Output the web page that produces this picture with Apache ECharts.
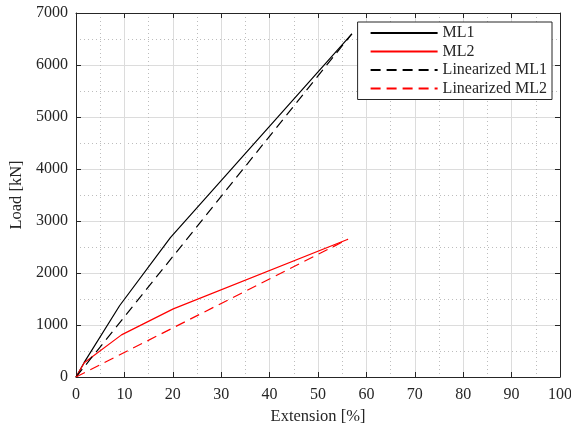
<!DOCTYPE html>
<html><head><meta charset="utf-8">
<script src="https://cdn.jsdelivr.net/npm/echarts@6/dist/echarts.min.js"></script>
<style>html,body{margin:0;padding:0;background:#fff}#c{width:571px;height:425px}</style>
</head><body><div id="c"></div>
<script>
const ml1 = [[0,0],[1.7,280],[9,1370],[19.5,2680],[57,6600]];
const ml2 = [[0,0],[1.7,275],[9.4,810],[20.1,1310],[56.2,2650]];
const linMl1 = [[0,0],[57,6600]];
const linMl2 = [[0,0],[56.2,2650]];
const seriesNames = ['ML1','ML2','Linearized ML1','Linearized ML2'];
const xTitle = 'Extension [%]';
const yTitle = 'Load [kN]';

const font = 'Liberation Serif';
const axisCol = '#262626';
const chart = echarts.init(document.getElementById('c'), null, {renderer:'canvas'});
function xa(show, pos){
  return {type:'value', min:0, max:100, interval:10, position:pos,
    name: show? xTitle:'', nameLocation:'middle', nameGap:29,
    nameTextStyle:{fontFamily:font,fontSize:16.5,color:axisCol},
    axisLine:{show:true,onZero:false,lineStyle:{color:axisCol,width:1}},
    axisTick:{show:true,inside:true,length:5,lineStyle:{color:axisCol}},
    axisLabel:{show:show,fontFamily:font,fontSize:16,color:axisCol,margin:10,formatter:v=>String(v)},
    splitLine:{show:show,lineStyle:{color:'#dcdcdc',width:1}},
    minorTick:{show:false,splitNumber:2},
    minorSplitLine:{show:show,lineStyle:{color:'#bdbdbd',width:1,type:[1,3]}}
  };
}
function ya(show, pos){
  return {type:'value', min:0, max:7000, interval:1000, position:pos,
    name: show? yTitle:'', nameLocation:'middle', nameGap:48,
    nameTextStyle:{fontFamily:font,fontSize:16.5,color:axisCol},
    axisLine:{show:true,onZero:false,lineStyle:{color:axisCol,width:1}},
    axisTick:{show:true,inside:true,length:5,lineStyle:{color:axisCol}},
    axisLabel:{show:show,fontFamily:font,fontSize:16,color:axisCol,margin:8,formatter:v=>String(v)},
    splitLine:{show:show,lineStyle:{color:'#dcdcdc',width:1}},
    minorTick:{show:false,splitNumber:2},
    minorSplitLine:{show:show,lineStyle:{color:'#bdbdbd',width:1,type:[1,3]}}
  };
}
const colors = ['#000000','#ff0000','#000000','#ff0000'];
const types = ['solid','solid',[10,6],[10,6]];
const datas = [ml1, ml2, linMl1, linMl2];
chart.setOption({
  animation:false,
  grid:{left:76,right:11,top:13,bottom:48,containLabel:false,outerBoundsMode:'none'},
  xAxis:[xa(true,'bottom'), xa(false,'top')],
  yAxis:[ya(true,'left'), ya(false,'right')],
  legend:{
    data:seriesNames, orient:'vertical', right:19, top:22,
    backgroundColor:'#fff', borderColor:axisCol, borderWidth:1,
    padding:[3,5,3,12], itemGap:2.5, itemWidth:67, itemHeight:12,
    itemStyle:{opacity:0},
    textStyle:{fontFamily:font,fontSize:16,color:axisCol}
  },
  series: datas.map((d,i)=>({
    name:seriesNames[i], type:'line', data:d, symbol:'none',
    xAxisIndex:0, yAxisIndex:0, z:5,
    lineStyle:{color:colors[i], width:1.2, type:types[i]},
    itemStyle:{color:colors[i]}
  }))
});
</script></body></html>
